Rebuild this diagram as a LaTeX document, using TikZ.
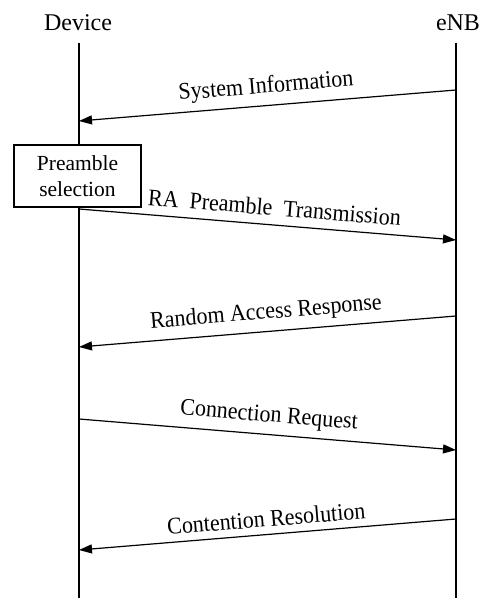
\documentclass[tikz,border=0pt]{standalone}
\usepackage{fontspec}
\setmainfont{Liberation Serif}
\usetikzlibrary{arrows.meta}
\begin{document}
\begin{tikzpicture}[x=1pt,y=1pt,
  actor/.style={font=\fontsize{24}{28}\selectfont, anchor=base, inner sep=0pt},
  lifeline/.style={line width=1.3pt},
  msg/.style={line width=1.2pt, -{Triangle[length=13pt,width=9pt]}},
  msglabel/.style={font=\fontsize{22}{26}\selectfont, midway, above, sloped, inner sep=6.5pt, yscale=1.08},
  procbox/.style={draw, line width=1.2pt, fill=white, minimum width=127pt, minimum height=62pt,
    align=center, inner sep=0pt, font=\fontsize{21.5}{26}\selectfont}]
\useasboundingbox (0,0) rectangle (483,598);

% participants
\node[actor] (dev) at (78,567) {Device};
\node[actor] (enb) at (458,567) {eNB};

% lifelines
\coordinate (devtop) at (79,555);
\coordinate (devbot) at (79,0);
\coordinate (enbtop) at (456,555);
\coordinate (enbbot) at (456,0);
\draw[lifeline] (devtop) -- (devbot);
\draw[lifeline] (enbtop) -- (enbbot);

% message end points
\coordinate (e1) at (456,508); \coordinate (d1) at (79,477);
\coordinate (d2) at (79,389);  \coordinate (e2) at (456,358);
\coordinate (e3) at (456,282); \coordinate (d3) at (79,251);
\coordinate (d4) at (79,179);  \coordinate (e4) at (456,148);
\coordinate (e5) at (456,79);  \coordinate (d5) at (79,48);

% local processing step on the device
\node[procbox] (sel) at (77.5,422) {Preamble\\selection};

% messages
\draw[msg] (e1) -- node[msglabel] (m1) {System Information} (d1);
\draw[msg] (d2) -- node[msglabel, pos=0.515, inner sep=8pt] (m2) {RA\ \ Preamble\ \ Transmission} (e2);
\draw[msg] (e3) -- node[msglabel] (m3) {Random Access Response} (d3);
\draw[msg] (d4) -- node[msglabel] (m4) {Connection Request} (e4);
\draw[msg] (e5) -- node[msglabel] (m5) {Contention Resolution} (d5);
\end{tikzpicture}
\end{document}
